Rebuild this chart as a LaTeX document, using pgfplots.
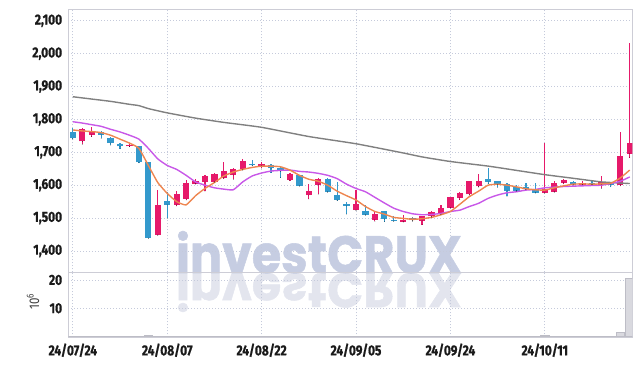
\documentclass[border=0pt]{standalone}
\usepackage{pgfplots}
\pgfplotsset{compat=1.18}
\usepackage{pgfplotstable}
\usepackage{fontspec}
\setmainfont{Fira Sans}[FakeStretch=0.82, Numbers=Proportional, BoldFeatures={FakeBold=0.8}]
\newfontfamily\wmfont{Poppins}[BoldFeatures={FakeBold=1}]

\definecolor{upc}{HTML}{E6196A}
\definecolor{dnc}{HTML}{3399CC}
\definecolor{eqc}{HTML}{7F8290}
\definecolor{mafive}{HTML}{EE8650}
\definecolor{maten}{HTML}{C858E8}
\definecolor{masix}{HTML}{808080}
\definecolor{gridc}{HTML}{C5CADB}
\definecolor{framec}{HTML}{CDCDD6}
\definecolor{wmc}{HTML}{C6CDE2}
\definecolor{wmr}{HTML}{E3E5EE}
\definecolor{volc}{HTML}{D9D9DF}
\definecolor{volb}{HTML}{BDBDC6}
\definecolor{labc}{HTML}{1A1A1A}

% up candles (close > open)
\pgfplotstableread{
x o h l c
1 1733 1775 1724 1770
2 1753 1776 1748 1763
6 1718 1728 1717 1722
9 1449 1585 1447 1540
11 1540 1581 1537 1573
12 1558 1616 1555 1606
13 1605 1618 1603 1614
14 1610 1630 1582 1627
15 1611 1638 1609 1633
16 1623 1671 1620 1642
17 1631 1652 1618 1648
18 1648 1679 1646 1673
20 1659 1671 1652 1663
23 1616 1637 1614 1633
25 1570 1605 1558 1582
26 1601 1621 1573 1618
30 1525 1586 1523 1543
32 1495 1519 1490 1512
35 1489 1509 1488 1495
37 1492 1507 1480 1505
38 1505 1520 1503 1517
39 1512 1540 1510 1532
40 1532 1565 1530 1563
41 1562 1580 1556 1577
42 1572 1614 1570 1612
43 1596 1633 1594 1614
50 1577 1729 1575 1588
51 1580 1612 1578 1608
52 1608 1618 1604 1616
54 1602 1614 1601 1606
56 1601 1628 1590 1610
58 1601 1762 1598 1689
59 1696 2032 1684 1727
}\upT

% down candles (close < open)
\pgfplotstableread{
x o h l c
0 1763 1773 1740 1742
3 1763 1765 1742 1753
4 1742 1748 1722 1728
5 1724 1729 1711 1718
7 1718 1719 1668 1670
8 1670 1671 1438 1439
10 1552 1578 1500 1540
19 1665 1677 1659 1660
21 1661 1663 1638 1651
22 1651 1654 1623 1642
24 1630 1631 1597 1598
27 1620 1621 1578 1580
28 1570 1610 1553 1555
29 1543 1549 1512 1537
31 1522 1541 1508 1510
33 1520 1521 1489 1497
34 1495 1507 1490 1491
44 1618 1651 1605 1610
45 1612 1614 1593 1602
46 1603 1606 1566 1583
47 1594 1600 1582 1583
48 1593 1608 1586 1587
49 1588 1606 1576 1577
53 1610 1613 1600 1602
55 1608 1612 1601 1602
57 1610 1611 1595 1602
}\dnT

% unchanged candle
\pgfplotstableread{
x o h l c
36 1500 1502 1490 1493
}\eqT

\begin{document}
\begin{tikzpicture}
\useasboundingbox (0,0) rectangle (642pt,366pt);

% watermark
\node[anchor=base, text=wmr, yscale=-1, inner sep=0pt]
  at (319pt,93pt) {\resizebox{286pt}{39pt}{\wmfont\bfseries investCRUX}};
\node[anchor=base, text=wmc, inner sep=0pt]
  at (319pt,93pt) {\resizebox{286pt}{42pt}{\wmfont\bfseries investCRUX}};

\pgfplotsset{
  candlebase/.style={
    scale only axis, width=564pt,
    xmin=-0.48, xmax=59.27,
    xtick={0,10,...,50},
    grid=major,
    major grid style={gridc, dash pattern=on 1pt off 2pt, line width=0.7pt},
    axis line style={framec, line width=0.8pt},
    major tick length=0pt,
    tick style={draw=none},
    /pgf/number format/assume math mode=true,
    /pgf/number format/1000 sep={,},
    yticklabel style={font=\bfseries\fontsize{14.5}{14.5}\selectfont, text=labc, inner sep=0pt, xshift=-6pt},
    xticklabel style={font=\bfseries\fontsize{14.5}{14.5}\selectfont, text=labc, inner sep=0pt, yshift=-6pt},
  },
  wick/.style={only marks, mark=*, mark size=0.01pt, mark options={draw=none, fill=none},
    error bars/.cd, y dir=plus, y explicit, error mark=none,
    error bar style={draw=#1, line width=1.2pt}},
  body/.style={only marks, mark=*, mark size=0.01pt, mark options={draw=none, fill=none},
    error bars/.cd, y dir=plus, y explicit, error mark=none,
    error bar style={draw=#1, line width=6.3pt}},
}

% price panel
\begin{axis}[candlebase,
  at={(68.3pt,93.7pt)}, anchor=south west, height=263pt,
  ymin=1335, ymax=2135,
  ytick={1400,1500,...,2100},
  xticklabels={},
]
% wicks
\addplot[wick=upc] table[x=x, y=l, y error expr=\thisrow{h}-\thisrow{l}] {\upT};
\addplot[wick=dnc] table[x=x, y=l, y error expr=\thisrow{h}-\thisrow{l}] {\dnT};
\addplot[wick=eqc] table[x=x, y=l, y error expr=\thisrow{h}-\thisrow{l}] {\eqT};
% bodies
\addplot[body=upc] table[x=x, y=o, y error expr=\thisrow{c}-\thisrow{o}] {\upT};
\addplot[body=dnc] table[x=x, y=c, y error expr=\thisrow{o}-\thisrow{c}] {\dnT};
\addplot[body=eqc] table[x=x, y=c, y error expr=\thisrow{o}-\thisrow{c}] {\eqT};

% long moving average
\addplot[masix, line width=1.4pt, smooth, tension=0.3] coordinates {
(0,1869) (2,1862) (4,1855) (6,1846) (7,1842) (8,1833) (10,1820) (13,1804) (16,1791)
(20,1776) (25,1748) (30,1726) (35,1698) (37,1686) (40,1672) (44,1658) (47,1645)
(50,1632) (53,1621) (56,1610) (59,1605)};
% 10-day
\addplot[maten, line width=1.4pt, smooth, tension=0.3] coordinates {
(0,1793) (1,1789) (2,1784) (3,1779) (4,1770) (5,1762) (6,1752) (7,1740) (8,1712) (9,1680)
(10,1660) (11,1648) (12,1630) (13,1610) (14,1600) (15,1592) (16,1588) (17,1586) (18,1610) (19,1628)
(20,1637) (21,1643) (22,1645) (23,1646) (24,1642) (25,1640) (26,1636) (27,1630) (28,1620) (29,1603)
(30,1590) (31,1580) (32,1563) (33,1546) (34,1530) (35,1520) (36,1513) (37,1510) (38,1511) (39,1514)
(40,1520) (41,1524) (42,1535) (43,1545) (44,1560) (45,1570) (46,1577) (47,1580) (48,1585) (49,1587)
(50,1592) (51,1594) (52,1596) (53,1597) (54,1598) (55,1599) (56,1600) (57,1605) (58,1612) (59,1625)};
% 5-day
\addplot[mafive, line width=1.4pt, smooth, tension=0.3] coordinates {
(0,1768) (1,1765) (2,1763) (3,1760) (4,1752) (5,1740) (6,1728) (7,1712) (8,1660) (9,1608)
(10,1575) (11,1550) (12,1540) (13,1568) (14,1590) (15,1608) (16,1628) (17,1640) (18,1648) (19,1654)
(20,1658) (21,1658) (22,1656) (23,1646) (24,1630) (25,1618) (26,1612) (27,1600) (28,1582) (29,1568)
(30,1555) (31,1535) (32,1520) (33,1512) (34,1502) (35,1499) (36,1496) (37,1498) (38,1502) (39,1510)
(40,1520) (41,1542) (42,1565) (43,1582) (44,1600) (45,1603) (46,1600) (47,1595) (48,1589) (49,1586)
(50,1585) (51,1592) (52,1598) (53,1603) (54,1604) (55,1603) (56,1604) (57,1606) (58,1622) (59,1646)};
\end{axis}

% volume panel
\begin{axis}[candlebase,
  at={(68.3pt,28.7pt)}, anchor=south west, height=65pt,
  ymin=-0.25, ymax=22.7,
  ytick={10,20},
  xticklabels={24/07/24,24/08/07,24/08/22,24/09/05,24/09/24,24/10/11},
]
\addplot[ybar, bar shift=0, bar width=0.9, fill=volc, draw=volb, line width=0.5pt] coordinates {
(0,0.08) (1,0.08) (2,0.08) (3,0.08) (4,0.08) (5,0.08) (6,0.08) (7,0.1) (8,0.35) (9,0.15)
(10,0.1) (11,0.08) (12,0.08) (13,0.08) (14,0.08) (15,0.08) (16,0.08) (17,0.08) (18,0.08) (19,0.08)
(20,0.08) (21,0.08) (22,0.08) (23,0.08) (24,0.08) (25,0.08) (26,0.08) (27,0.08) (28,0.08) (29,0.08)
(30,0.08) (31,0.08) (32,0.08) (33,0.08) (34,0.08) (35,0.08) (36,0.08) (37,0.08) (38,0.08) (39,0.08)
(40,0.08) (41,0.08) (42,0.08) (43,0.08) (44,0.08) (45,0.08) (46,0.08) (47,0.08) (48,0.08) (49,0.08)
(50,0.3) (51,0.08) (52,0.08) (53,0.08) (54,0.08) (55,0.08) (56,0.08) (57,0.08) (58,1.5) (59,20.6)};
\end{axis}

\node[rotate=90, text=black!75, inner sep=0pt] at (33pt,64pt)
  {\fontsize{14}{14}\selectfont 10\raisebox{0.75ex}{\fontsize{10}{10}\selectfont 6}};
\end{tikzpicture}
\end{document}
